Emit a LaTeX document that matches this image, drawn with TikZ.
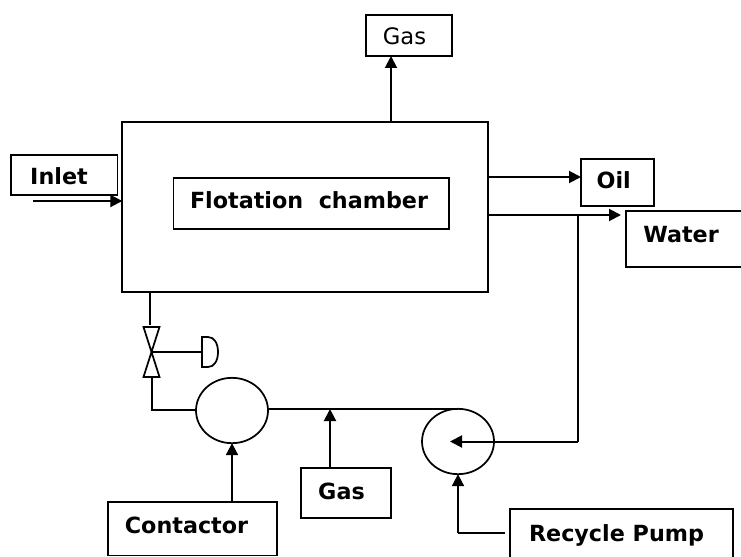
\documentclass[tikz,border=0pt]{standalone}
\usepackage{fontspec}
\setmainfont{DejaVu Sans}
\usetikzlibrary{arrows.meta,shapes.geometric}
\newcommand{\offtext}[3]{\raisebox{#2}[0pt][0pt]{\makebox[0pt]{\hspace*{#1}#3}}}
\tikzset{
  px/.style={x=0.75pt,y=-0.75pt},
  boxnode/.style={draw=black,line width=1.2pt,rectangle,inner sep=0pt,outer sep=0pt,anchor=north west,font=\fontsize{16.7}{18}\selectfont\bfseries},
  plainbox/.style={boxnode,font=\fontsize{17}{18}\selectfont},
  roundnode/.style={draw=black,line width=1.3pt,ellipse,inner sep=0pt,outer sep=0pt,minimum width=54pt,minimum height=49pt},
  pipe/.style={draw=black,line width=1.5pt},
  flow/.style={pipe,-{Triangle[length=9pt,width=9pt]}},
}
\begin{document}
\begin{tikzpicture}[px]
\useasboundingbox (0,0) rectangle (741,556);
\clip (0,0) rectangle (741,556);
% boxes
\node[plainbox,minimum width=64.5pt,minimum height=30.75pt] (gastop) at (366,15) {\offtext{-6.75pt}{-7.1pt}{Gas}};
\node[boxnode,line width=1.5pt,minimum width=274pt,minimum height=127pt] (chamber) at (122.3,122.3) {};
\node[boxnode,minimum width=206.6pt,minimum height=38.25pt] (inner) at (173.3,177.7) {\offtext{-3pt}{-4pt}{Flotation\ \ chamber}};
\node[boxnode,minimum width=80pt,minimum height=30pt] (inlet) at (11,155) {\offtext{-8pt}{-6.75pt}{Inlet}};
\node[boxnode,minimum width=54.75pt,minimum height=35.25pt] (oil) at (581,159) {\offtext{-5.7pt}{-4.5pt}{Oil}};
\node[boxnode,minimum width=90pt,minimum height=42pt] (water) at (626,211) {\offtext{-7.5pt}{-2.25pt}{Water}};
\node[boxnode,minimum width=126.75pt,minimum height=40.1pt] (contactor) at (108,502) {\offtext{-9pt}{-3.2pt}{Contactor}};
\node[boxnode,minimum width=67.5pt,minimum height=37.5pt] (gaslow) at (301,468) {\offtext{-6.75pt}{-4.5pt}{Gas}};
\node[boxnode,minimum width=167.25pt,minimum height=50pt] (pump) at (510,509) {\offtext{-7.5pt}{0.4pt}{Recycle Pump}};
% round vessels
\node[roundnode] (contact) at (232,410.5) {};
\node[roundnode] (recycle) at (458,441.5) {};
% named free ends
\coordinate (pumpin) at (450,441.5);
\coordinate (tee) at (578,215);
\coordinate (corner) at (578,441.5);
\coordinate (valve) at (151.5,352);
\coordinate (valvetop) at (149.5,325);
\coordinate (valvebot) at (152,378);
\coordinate (elbow) at (152,409.5);
\coordinate (act) at (202,352);
\coordinate (joint) at (330,409);
\coordinate (elbowb) at (458,533);
\coordinate (pumptop) at (458,409);
% valve body
\draw[pipe,line width=1.3pt,line join=miter] (valve) -- (143.5,327) -- (159.5,327) -- cycle;
\draw[pipe,line width=1.3pt,line join=miter] (valve) -- (143.5,377) -- (159.5,377) -- cycle;
\draw[pipe] (act) -- (valve);
\draw[pipe,line width=1.3pt] (act) -- ++(0,-15) -- ++(6,0) .. controls +(6,0) and +(0,-9) .. ++(10,15) .. controls +(0,9) and +(6,0) .. ++(-10,15) -- ++(-6,0) -- cycle;
% connectors
\draw[pipe] (chamber.south west -| valvetop) -- (valvetop);
\draw[pipe] (valvebot) -- (elbow) -- (contact.west |- elbow);
\draw[pipe] (contact.east |- pumptop) -- (pumptop);
\draw[flow] (chamber.north -| 391,0) -- (gastop.south -| 391,0);
\draw[flow] (chamber.east |- 0,177) -- (oil.west |- 0,177);
\draw[flow] (chamber.east |- 0,215) -- (621,215);
\draw[pipe] (tee) -- (corner);
\draw[flow] (corner) -- (pumpin);
\draw[flow] (33,201) -- (chamber.west |- 0,201);
\draw[flow] (contactor.north -| contact.south) -- (contact.south);
\draw[flow] (gaslow.north -| joint) -- (joint);
\draw[pipe] (505,533) -- (elbowb);
\draw[flow] (elbowb) -- (recycle.south);
\end{tikzpicture}
\end{document}
